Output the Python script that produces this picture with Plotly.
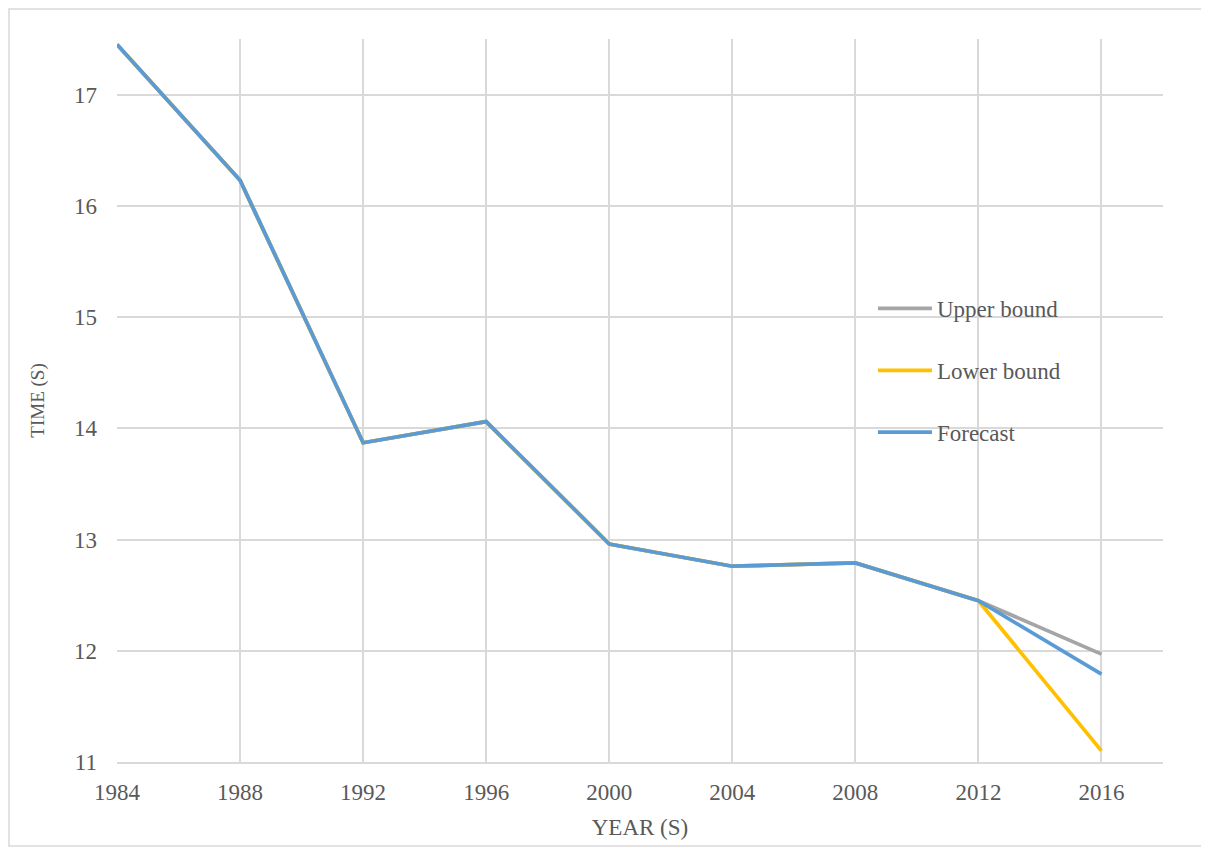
import plotly.graph_objects as go

years = [1984, 1988, 1992, 1996, 2000, 2004, 2008, 2012, 2016]
upper_bound = [17.45, 16.23, 13.87, 14.06, 12.96, 12.76, 12.79, 12.45, 11.97]
lower_bound = [17.45, 16.23, 13.87, 14.06, 12.96, 12.76, 12.79, 12.45, 11.10]
forecast = [17.45, 16.23, 13.87, 14.06, 12.96, 12.76, 12.79, 12.45, 11.79]
y_ticks = [11, 12, 13, 14, 15, 16, 17]

FONT = "Liberation Serif, Times New Roman, serif"
TXT = "#595959"
GRID = "#D9D9D9"

fig = go.Figure()
series = [
    ("Upper bound", upper_bound, "#A5A5A5"),
    ("Lower bound", lower_bound, "#FFC000"),
    ("Forecast", forecast, "#5B9BD5"),
]
for name, vals, color in series:
    fig.add_trace(go.Scatter(
        x=years, y=vals, mode="lines", name=name, legendgroup=name,
        line=dict(color=color, width=3.75), hoverinfo="skip",
    ))

fig.update_layout(
    width=1201, height=840,
    margin=dict(l=109, r=46, t=31, b=86),
    paper_bgcolor="white", plot_bgcolor="white",
    font=dict(family=FONT, size=23, color=TXT),
    showlegend=True,
    legend=dict(
        x=0.7227, y=0.657, xanchor="left", yanchor="top",
        bgcolor="rgba(0,0,0,0)", tracegroupgap=29, itemwidth=54,
        font=dict(family=FONT, size=23, color=TXT),
    ),
    xaxis=dict(
        range=[1984, 2018], tickvals=years, ticktext=[str(y) for y in years],
        showgrid=True, gridcolor=GRID, gridwidth=1.5,
        showline=True, linecolor=GRID, linewidth=1.5,
        zeroline=False, ticks="", ticklabelstandoff=9,
        title=dict(text="YEAR (S)", font=dict(family=FONT, size=23, color=TXT), standoff=15),
    ),
    yaxis=dict(
        range=[11, 17.5], tickvals=y_ticks,
        showgrid=True, gridcolor=GRID, gridwidth=1.5,
        showline=False, zeroline=False, ticks="", ticklabelstandoff=19,
        title=dict(text="TIME (S)", font=dict(family=FONT, size=19, color=TXT), standoff=24),
    ),
    shapes=[dict(
        type="rect", xref="paper", yref="paper",
        x0=(9 - 117) / 1046, x1=(1207 - 117) / 1046,
        y0=(762 - 846) / 723, y1=(762 - 9) / 723,
        line=dict(color=GRID, width=1.5), fillcolor="rgba(0,0,0,0)", layer="below",
    )],
)

fig.write_html("out.html")
